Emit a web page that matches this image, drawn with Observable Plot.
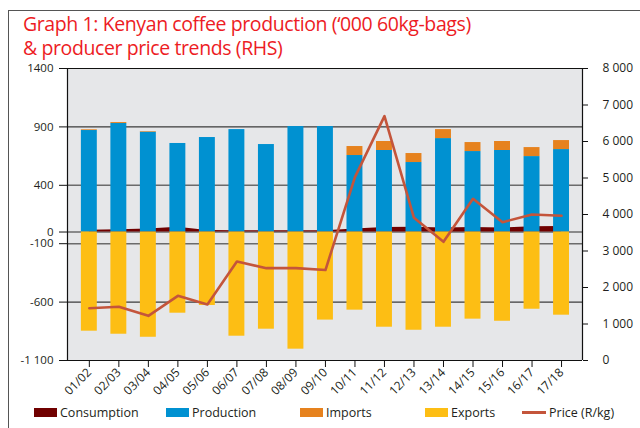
<!DOCTYPE html>
<html>
<head>
<meta charset="utf-8">
<script src="https://cdn.jsdelivr.net/npm/d3@7"></script>
<script src="https://cdn.jsdelivr.net/npm/@observablehq/plot@0.6"></script>
<style>
  html, body { margin: 0; padding: 0; background: #fff; }
  #wrap { position: relative; width: 640px; height: 428px; overflow: hidden; font-family: "Open Sans", sans-serif; }
  #border { position: absolute; left: 8px; top: 10px; width: 700px; height: 500px; border-left: 1.5px solid #555; border-top: 1.5px solid #555; }
  .title { position: absolute; left: 23px; color: #ed1c24; font-family: "Open Sans", sans-serif; font-size: 19.5px; letter-spacing: -0.4px; line-height: 20px; white-space: nowrap; }
  #chart { position: absolute; left: 0; top: 58px; }
  .leg { position: absolute; top: 404px; font-size: 12.5px; color: #231f20; display: flex; align-items: center; white-space: nowrap; }
  .sw { display: inline-block; width: 23px; height: 9px; margin-right: 3px; }
  .ln { display: inline-block; width: 24px; height: 3px; margin-right: 3px; }
</style>
</head>
<body>
<div id="wrap">
  <div id="border"></div>
  <div class="title" style="top:14px">Graph 1: Kenyan coffee production (‘000 60kg-bags)</div>
  <div class="title" style="top:38px">&amp; producer price trends (RHS)</div>
  <div id="chart"></div>
  <div id="legend"></div>
</div>
<script>
const years = ["01/02","02/03","03/04","04/05","05/06","06/07","07/08","08/09","09/10","10/11","11/12","12/13","13/14","14/15","15/16","16/17","17/18"];
const production  = [869, 929, 855, 758, 809, 877, 749, 903, 903, 655, 698, 595, 800, 689, 698, 646, 706];
const imports     = [6, 8, 5, 0, 0, 0, 0, 0, 0, 77, 77, 77, 77, 77, 77, 77, 77];
const exports     = [849, 875, 901, 695, 629, 892, 832, 1003, 754, 669, 815, 841, 815, 746, 764, 661, 712];
const consumption = [15, 20, 25, 40, 12, 10, 10, 10, 10, 25, 38, 40, 35, 38, 35, 45, 48];
const price       = [1433, 1471, 1224, 1772, 1534, 2712, 2530, 2530, 2478, 5023, 6694, 3909, 3251, 4429, 3790, 4000, 3964];

const leftTicks  = [1400, 900, 400, 0, -100, -600, -1100];
const leftLabels = ["1400", "900", "400", "0", "-100", "-600", "-1 100"];
const gridDark   = [1400, 900, -600, -1100];
const gridGray   = [400, 0, -100];
const rightTicks  = [0, 1000, 2000, 3000, 4000, 5000, 6000, 7000, 8000];
const rightLabels = ["0", "1 000", "2 000", "3 000", "4 000", "5 000", "6 000", "7 000", "8 000"];

const legendItems = [
  {label: "Consumption", color: "#700000", type: "box", left: 34},
  {label: "Production", color: "#0091d1", type: "box", left: 166},
  {label: "Imports", color: "#e6821e", type: "box", left: 300},
  {label: "Exports", color: "#fdbe14", type: "box", left: 425},
  {label: "Price (R/kg)", color: "#c4553b", type: "line", left: 522}
];

// left axis domain and right (price) axis domain
const yDomain = [-1100, 1400];
const pDomain = [0, 8000];
const toLeft = v => yDomain[0] + (v - pDomain[0]) * (yDomain[1] - yDomain[0]) / (pDomain[1] - pDomain[0]);

const data = years.map((y, i) => ({
  i, year: y,
  production: production[i],
  imports: imports[i],
  exports: exports[i],
  consumption: consumption[i],
  price: price[i],
  priceL: toLeft(price[i])
}));

const hw = 0.27; // half bar width in band units
const rightTickPos = rightTicks.map(toLeft);

const chart = Plot.plot({
  width: 640,
  height: 345,
  marginTop: 10,
  marginBottom: 43,
  marginLeft: 67,
  marginRight: 58,
  style: {fontFamily: "'Open Sans', sans-serif", fontSize: "12px", color: "#231f20", background: "transparent"},
  x: {type: "linear", domain: [-0.74, 16.71], axis: null},
  y: {domain: yDomain, axis: null},
  marks: [
    Plot.frame({fill: "#e6e7e9", stroke: null}),
    Plot.ruleY(gridGray, {stroke: "#6b6b6b", strokeWidth: 1.4}),
    Plot.ruleY(gridDark, {stroke: "#111", strokeWidth: 1}),
    Plot.areaY(data, {x: "i", y1: 0, y2: "consumption", fill: "#700000"}),
    Plot.rectY(data, {x1: d => d.i - hw, x2: d => d.i + hw, y1: 0, y2: "production", fill: "#0091d1"}),
    Plot.rectY(data, {x1: d => d.i - hw, x2: d => d.i + hw, y1: "production", y2: d => d.production + d.imports, fill: "#e6821e"}),
    Plot.rectY(data, {x1: d => d.i - hw, x2: d => d.i + hw, y1: 0, y2: d => -d.exports, fill: "#fdbe14"}),
    Plot.line(data, {x: "i", y: "priceL", stroke: "#c4553b", strokeWidth: 2.6}),
    Plot.ruleX([-0.74, 16.71], {stroke: "#111", strokeWidth: 1.2}),
    Plot.ruleY([yDomain[0]], {stroke: "#111", strokeWidth: 1}),
    Plot.axisY({ticks: leftTicks, tickFormat: d => leftLabels[leftTicks.indexOf(d)], tickSize: 8, tickPadding: 6, anchor: "left", label: null, stroke: "#111", fontSize: 11.5}),
    Plot.axisY({ticks: rightTickPos, tickFormat: d => rightLabels[rightTickPos.indexOf(d)], tickSize: 5, tickPadding: 15, anchor: "right", label: null, textAnchor: "start", stroke: "#111"}),
    Plot.axisX({ticks: data.map(d => d.i), tickFormat: d => years[d], tickRotate: -45, tickSize: 7, tickPadding: 3, label: null, stroke: "#111"})
  ]
});
document.getElementById("chart").appendChild(chart);

const leg = document.getElementById("legend");
legendItems.forEach(it => {
  const div = document.createElement("div");
  div.className = "leg";
  div.style.left = it.left + "px";
  const sw = document.createElement("span");
  sw.className = it.type === "box" ? "sw" : "ln";
  sw.style.background = it.color;
  div.appendChild(sw);
  div.appendChild(document.createTextNode(it.label));
  leg.appendChild(div);
});
</script>
</body>
</html>
